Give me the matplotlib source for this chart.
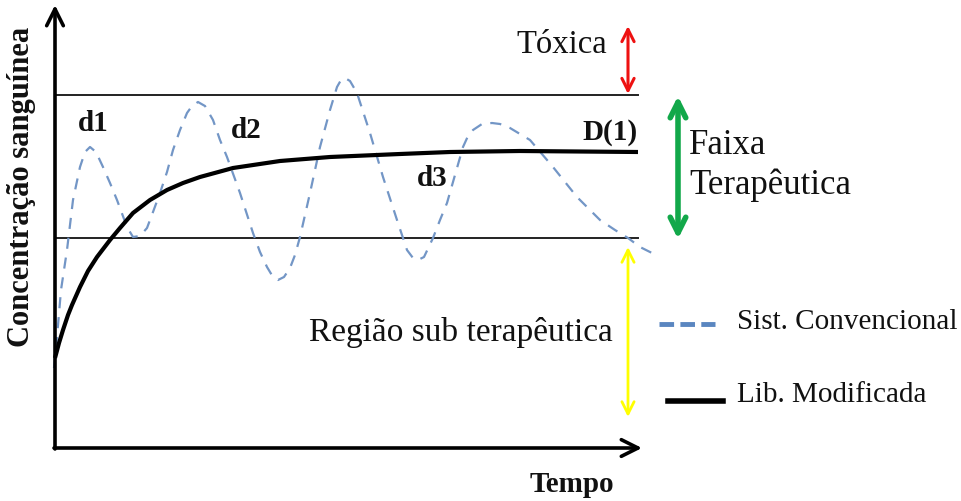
import matplotlib
matplotlib.use("Agg")
import matplotlib.pyplot as plt

# Time / concentration readings (arbitrary units, origin at axes corner)
conv_t = [-1, 2, 6, 12, 18, 25, 30, 35, 41, 48, 55, 62, 72, 78, 85, 92, 98, 105, 112, 118, 125, 132,
          137, 143, 150, 158, 165, 172, 185, 198, 205, 212, 218, 223, 229, 235, 240, 245, 255, 265,
          275, 282, 286, 290, 295, 302, 315, 328, 342, 352, 358, 363, 369, 378, 385, 392, 400, 408,
          413, 418, 427, 437, 445, 455, 475, 498, 522, 545, 560, 573, 585, 597]
conv_c = [80, 111, 158, 198, 248, 281, 296, 301, 296, 281, 265, 248, 221, 211, 212, 220, 236, 255,
          276, 298, 318, 335, 342, 346, 342, 328, 308, 291, 255, 215, 196, 181, 171, 168, 171, 180,
          193, 211, 255, 301, 338, 361, 368, 370, 367, 355, 315, 271, 228, 198, 190, 188, 191, 210,
          228, 245, 273, 301, 312, 318, 324, 325, 324, 320, 308, 281, 251, 228, 218, 210, 201, 195]
mod_t = [0, 4, 8, 13, 17, 25, 33, 42, 55, 65, 78, 95, 112, 128, 145, 178, 225, 275, 345, 395, 465, 583]
mod_c = [90, 105, 118, 133, 143, 161, 177, 191, 208, 220, 235, 248, 258, 265, 271, 280, 287, 291,
         294, 296, 297, 296]
tox_level = 353
sub_level = 210
t_end = 583

fig = plt.figure(figsize=(9.62, 5.01), dpi=100)
ax = fig.add_axes([0, 0, 1, 1])
ax.set_xlim(-55, 907)
ax.set_ylim(-53, 448)
ax.axis("off")

serif = ["Liberation Serif", "DejaVu Serif"]
ink = "#111111"

# axes arrows
arrow_kw = dict(arrowstyle="->", lw=2.6, color="black", mutation_scale=30, shrinkA=0, shrinkB=0)
ax.annotate("", xy=(0, 443), xytext=(0, -1), arrowprops=arrow_kw)
ax.annotate("", xy=(587, 0), xytext=(-1, 0), arrowprops=arrow_kw)

# threshold lines
ax.plot([0, t_end], [tox_level, tox_level], color="#222222", lw=1.4)
ax.plot([0, t_end], [sub_level, sub_level], color="#222222", lw=1.4)

# curves
ax.plot(conv_t, conv_c, color="#7396c6", lw=1.6, dashes=(5, 4))
ax.plot(mod_t, mod_c, color="black", lw=3, solid_capstyle="butt")

# labels on curves
bold_kw = dict(family=serif, fontweight="bold", fontsize=21, color=ink, ha="center", va="center")
ax.text(38, 325, "d1", **bold_kw)
ax.text(191, 318, "d2", **bold_kw)
ax.text(377, 270, "d3", **bold_kw)
ax.text(555, 316, "D(1)", **bold_kw)

# red double arrow (toxic)
ax.annotate("", xy=(573, 422), xytext=(573, 354),
            arrowprops=dict(arrowstyle="<->", lw=2.2, color="#ee1111", mutation_scale=22, shrinkA=0, shrinkB=0))
ax.text(507, 403, "Tóxica", family=serif, fontsize=23.5, ha="center", va="center", color=ink)

# green double arrow (therapeutic)
ax.annotate("", xy=(623, 352), xytext=(623, 209),
            arrowprops=dict(arrowstyle="<->", lw=4, color="#12a84a", mutation_scale=28, shrinkA=0, shrinkB=0))
ax.text(634, 303, "Faixa", family=serif, fontsize=25, ha="left", va="center", color=ink)
ax.text(634, 263, "Terapêutica", family=serif, fontsize=25, ha="left", va="center", color=ink)

# yellow double arrow (sub therapeutic)
ax.annotate("", xy=(573, 201), xytext=(573, 31),
            arrowprops=dict(arrowstyle="<->", lw=2, color="#ffff00", mutation_scale=22, shrinkA=0, shrinkB=0))
ax.text(558, 115, "Região sub terapêutica", family=serif, fontsize=24, ha="right", va="center", color=ink)

# legend
ax.plot([604, 660], [124, 124], color="#5a86c0", lw=3.5, dashes=(3, 1.3))
ax.text(682, 126, "Sist. Convencional", family=serif, fontsize=21, ha="left", va="center", color=ink)
ax.plot([613, 668], [47, 47], color="black", lw=4)
ax.text(682, 53, "Lib. Modificada", family=serif, fontsize=21, ha="left", va="center", color=ink)

# axis titles
ax.text(517, -37, "Tempo", family=serif, fontweight="bold", fontsize=21, ha="center", va="center", color=ink)
ax.text(-33, 261, "Concentração sanguínea", family=serif, fontweight="bold", fontsize=22,
        rotation=90, ha="center", va="center", color=ink)

fig.savefig("out.png", dpi=100)
